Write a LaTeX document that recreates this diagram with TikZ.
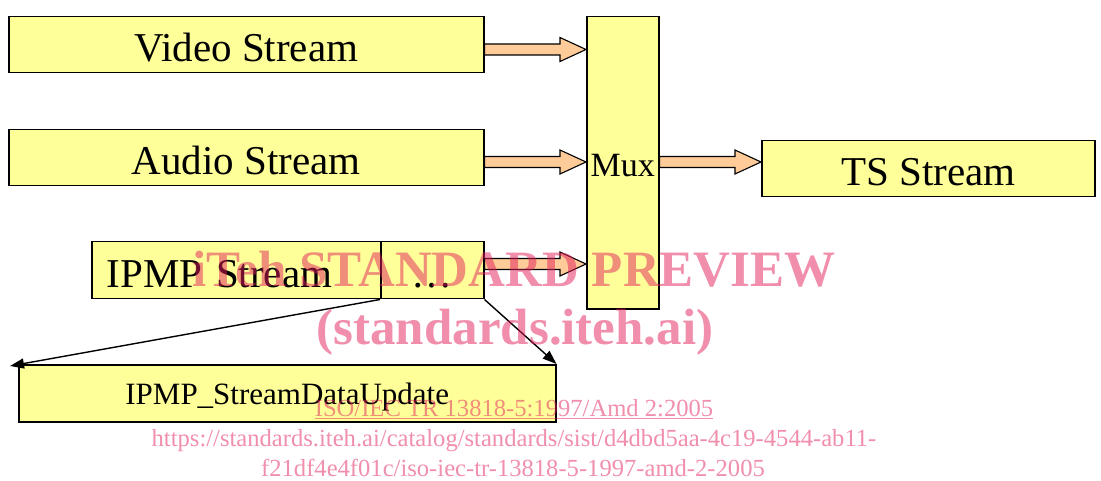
\documentclass[tikz,border=0pt]{standalone}
\usepackage{fontspec}
\setmainfont{Liberation Serif}
\usetikzlibrary{calc,arrows.meta}
\definecolor{boxyellow}{RGB}{255,255,153}
\definecolor{arrowpeach}{RGB}{255,204,153}
\definecolor{wmark}{RGB}{225,30,90}
\tikzset{
 box/.style={draw=black, line width=1.5pt, fill=boxyellow, inner sep=0pt, text height=34pt, text depth=0pt, font=\fontsize{41}{41}\selectfont, anchor=north west},
 fatarrowstyle/.style={draw=black, line width=1.1pt, fill=arrowpeach, line join=miter},
 thinarrow/.style={line width=1.4pt, -{Triangle[length=14pt,width=10pt]}},
 wm/.style={text=wmark, text opacity=0.5, anchor=base, inner sep=0pt},
}
\newcommand\myfatarrow[3]{%
  \coordinate (fa-s) at (#1.east |- 0,#3);
  \coordinate (fa-e) at (#2.west |- 0,#3);
  \draw[fatarrowstyle] ($(fa-s)+(0,-5.5)$) -- ($(fa-e)+(-26,-5.5)$) -- ($(fa-e)+(-26,-12)$) -- (fa-e) -- ($(fa-e)+(-26,12)$) -- ($(fa-e)+(-26,5.5)$) -- ($(fa-s)+(0,5.5)$) -- cycle;
}
\begin{document}
\begin{tikzpicture}[x=1pt,y=-1pt]
\useasboundingbox (0,0) rectangle (1101,481);
\node[box, minimum width=475, minimum height=56] (video) at (8,16) {Video Stream};
\node[box, minimum width=475, minimum height=56] (audio) at (8,129) {Audio Stream};
\node[box, text width=259, align=left, inner xsep=15, minimum height=57] (ipmp) at (91,241) {IPMP Stream};
\node[box, minimum width=103, minimum height=57] (dots) at (380,241) {\dots};
\node[box, minimum width=72, minimum height=292, text height=28pt, font=\fontsize{34}{34}\selectfont] (mux) at (586,16) {Mux};
\node[box, minimum width=333, minimum height=56] (ts) at (761,140) {TS Stream};
\node[box, minimum width=537, minimum height=57, text height=23pt, font=\fontsize{31}{31}\selectfont] (upd) at (18,364) {IPMP\_StreamDataUpdate};

\myfatarrow{video}{mux}{49.5}
\myfatarrow{audio}{mux}{162}
\myfatarrow{dots}{mux}{264}
\myfatarrow{mux}{ts}{162}

\coordinate (lt) at ($(upd.north west)+(-8,2)$);
\draw[thinarrow] (dots.south west) -- (lt);
\draw[thinarrow] (dots.south east) -- (upd.north east);

\node[wm, font=\bfseries\fontsize{51}{51}\selectfont] (wm1) at (514,287) {iTeh STANDARD PREVIEW};
\node[wm, font=\bfseries\fontsize{51}{51}\selectfont] (wm2) at (515,344) {(standards.iteh.ai)};
\node[wm, font=\fontsize{24.6}{24.6}\selectfont] (wm3) at (514,416) {\underline{ISO/IEC TR 13818-5:1997/Amd 2:2005}};
\node[wm, font=\fontsize{24.6}{24.6}\selectfont] (wm4) at (514,446) {https://standards.iteh.ai/catalog/standards/sist/d4dbd5aa-4c19-4544-ab11-};
\node[wm, font=\fontsize{24.6}{24.6}\selectfont] (wm5) at (513,476) {f21df4e4f01c/iso-iec-tr-13818-5-1997-amd-2-2005};
\end{tikzpicture}
\end{document}
